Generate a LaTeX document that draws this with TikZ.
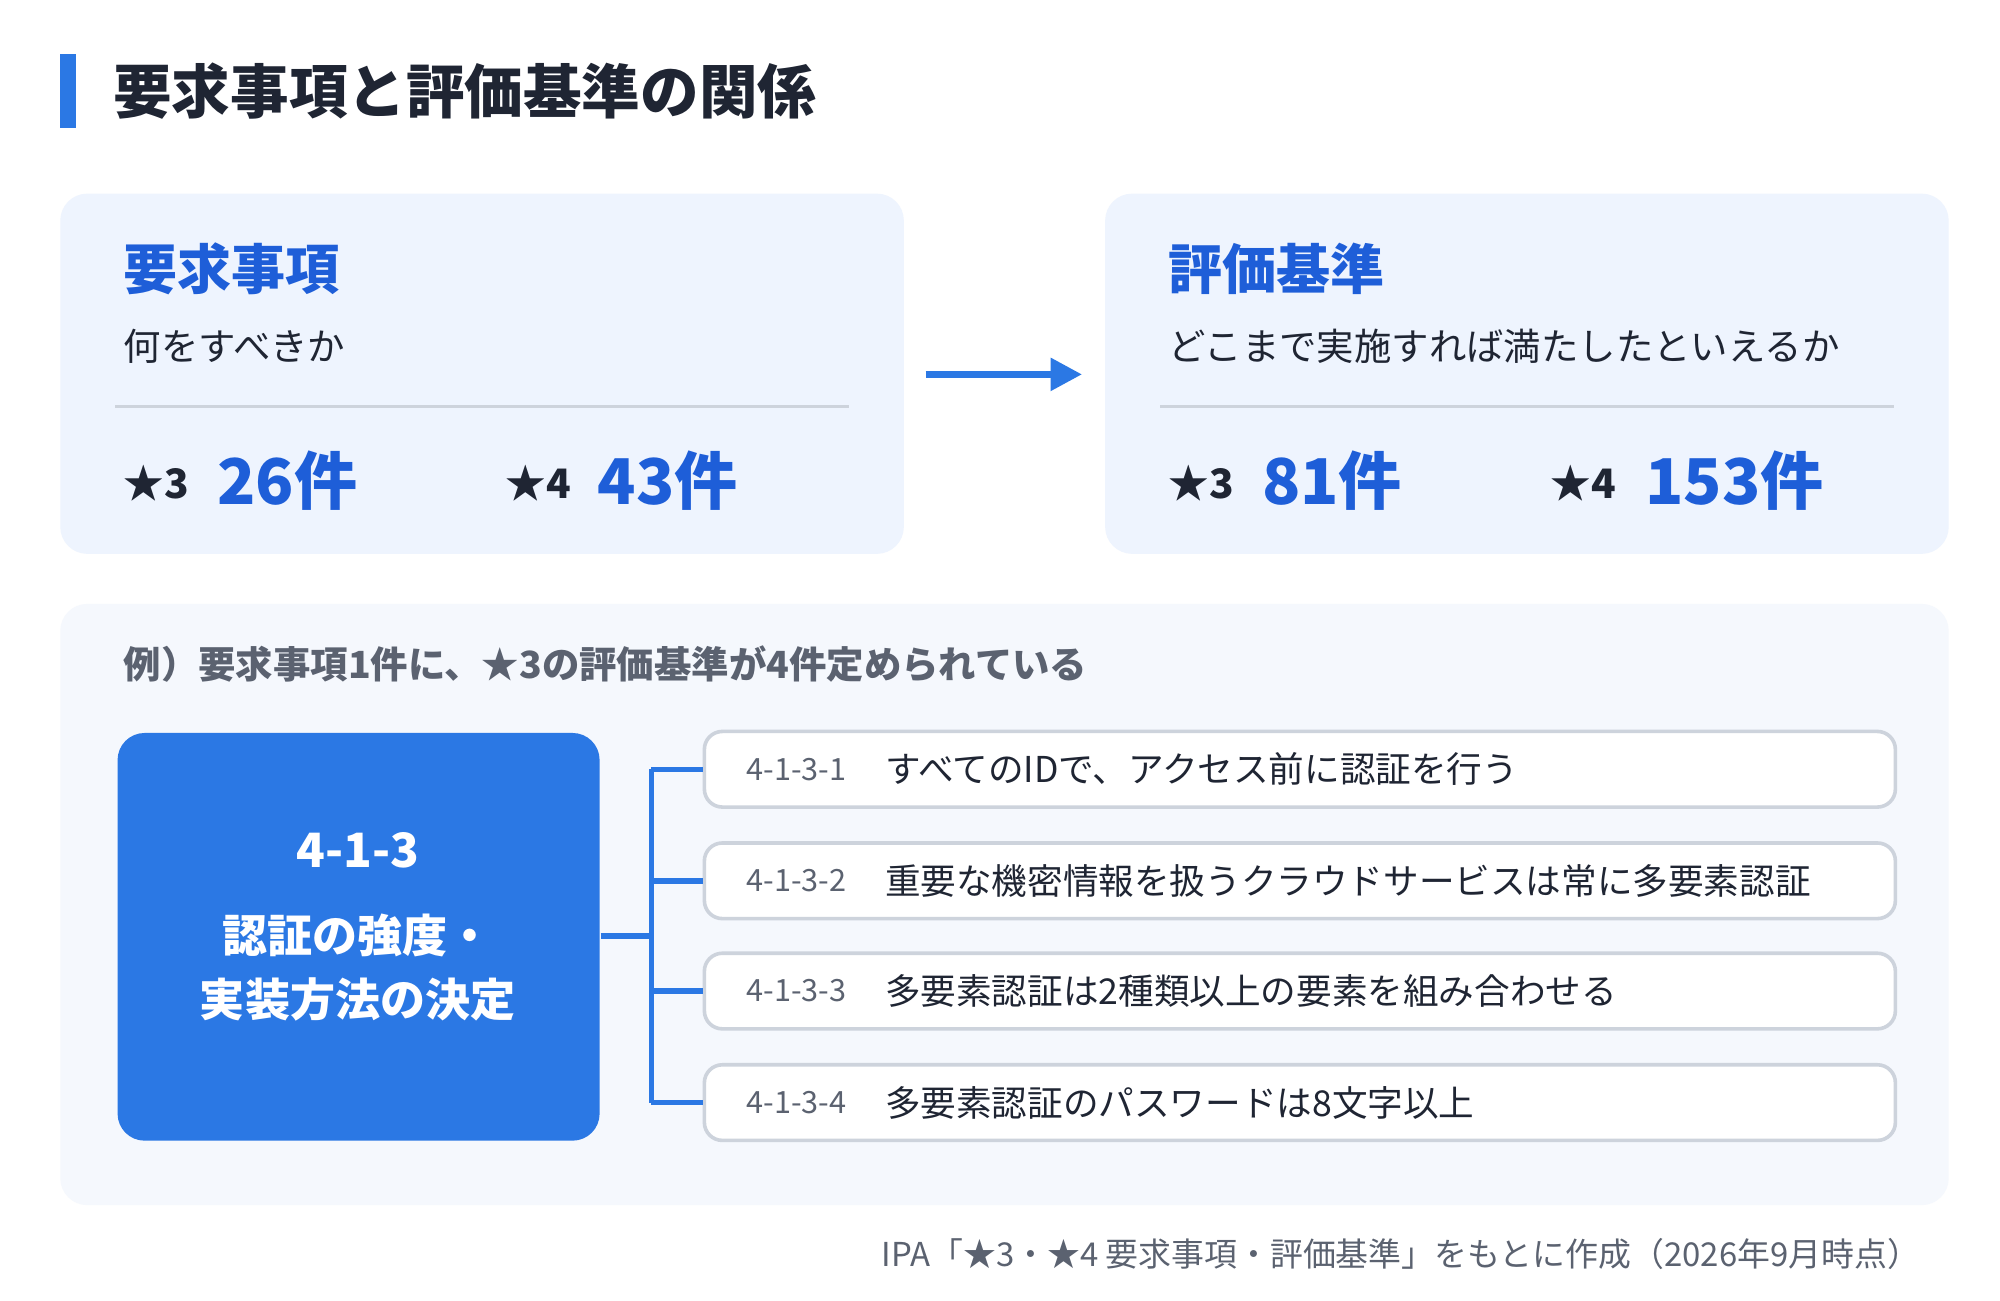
\documentclass[tikz,border=0pt]{standalone}
\usepackage{fontspec}
\setmainfont{Noto Sans CJK JP}
\usetikzlibrary{positioning, arrows.meta}
\definecolor{accent}{HTML}{2B78E4}
\definecolor{headblue}{HTML}{1E5ED8}
\definecolor{panelA}{HTML}{EEF4FE}
\definecolor{panelB}{HTML}{F5F8FD}
\definecolor{ink}{HTML}{1F2533}
\definecolor{mute}{HTML}{5B6270}
\definecolor{rule}{HTML}{CDD3DC}

\begin{document}
\begin{tikzpicture}[x=0.1mm, y=-0.1mm]
        % Define styles
        \tikzset{
            panel/.style={fill=panelA, rounded corners=6pt, draw=none},
            head/.style={anchor=west, font=\fontsize{12}{14}\selectfont\bfseries, text=headblue},
            sub/.style={anchor=west, font=\fontsize{8.3}{10}\selectfont, text=ink},
            star/.style={anchor=west, font=\fontsize{9}{11}\selectfont\bfseries, text=ink},
            count/.style={anchor=west, font=\fontsize{14}{16}\selectfont\bfseries, text=headblue},
            row/.style={draw=rule, line width=0.8pt, fill=white, rounded corners=4pt, minimum width=92.9mm, minimum height=5.9mm, anchor=west},
            code/.style={anchor=west, font=\fontsize{6.8}{8}\selectfont, text=mute},
            item/.style={anchor=west, font=\fontsize{7.9}{9}\selectfont, text=ink},
            branch/.style={accent, line width=1.2pt}
        }
        \useasboundingbox (0,0) rectangle (1560,1014);
        \fill[white] (0,0) rectangle (1560,1014);
        % Title
        \fill[accent] (47,42) rectangle (59,100);
        \node[anchor=west, font=\fontsize{13}{15}\selectfont\bfseries, text=ink] (title) at (76,71) {要求事項と評価基準の関係};
        % Left panel: requirements
        \fill[panel] (47,151) rectangle (705,432);
        \node[head] (reqhead) at (84,210) {要求事項};
        \node[sub] (reqsub) at (84,270) {何をすべきか};
        \draw[rule, line width=0.8pt] (90,317) -- (662,317);
        \node[star] (reqs3) at (84,377) {★3};
        \node[count] (reqn3) at (157,375) {26件};
        \node[star] (reqs4) at (382,377) {★4};
        \node[count] (reqn4) at (454,375) {43件};
        % Right panel: criteria
        \fill[panel] (862,151) rectangle (1520,432);
        \node[head] (crihead) at (899,210) {評価基準};
        \node[sub] (crisub) at (899,270) {どこまで実施すれば満たしたといえるか};
        \draw[rule, line width=0.8pt] (905,317) -- (1477,317);
        \node[star] (cris3) at (899,377) {★3};
        \node[count] (crin3) at (972,375) {81件};
        \node[star] (cris4) at (1197,377) {★4};
        \node[count] (crin4) at (1271,375) {153件};
        % Arrow between panels
        \coordinate (arrA) at (722,292);
        \coordinate (arrB) at (844,292);
        \draw[accent, line width=1.6pt, -{Triangle[length=7pt, width=7pt]}] (arrA) -- (arrB);
        % Example panel
        \fill[panelB, rounded corners=6pt] (47,471) rectangle (1520,940);
        \node[anchor=west, font=\fontsize{8.3}{10}\selectfont\bfseries, text=mute] (example) at (84,518) {例）要求事項1件に、★3の評価基準が4件定められている};
        \node[fill=accent, rounded corners=6pt, minimum width=37.6mm, minimum height=31.8mm, anchor=north west] (req) at (91,571) {};
        \node[text=white, font=\fontsize{10.5}{12}\selectfont\bfseries] (reqid) at (279,663) {4-1-3};
        \node[text=white, font=\fontsize{10}{14.2}\selectfont\bfseries, align=center] (reqname) at (279,755) {認証の強度・\\実装方法の決定};
        % Criteria rows
        \coordinate (fork) at (508,730);
        \foreach \i/\y/\txt in {1/600/{すべてのIDで、アクセス前に認証を行う},
                                2/687/{重要な機密情報を扱うクラウドサービスは常に多要素認証},
                                3/773/{多要素認証は2種類以上の要素を組み合わせる},
                                4/860/{多要素認証のパスワードは8文字以上}} {
            \node[row] (row\i) at (548,\y) {};
            \node[code] at (570,\y) {4-1-3-\i};
            \node[item] at (678,\y) {\txt};
        }
        \draw[branch] (req.east |- fork) -- (fork);
        \draw[branch] (fork |- row1.west) -- (fork |- row4.west);
        \foreach \i in {1,...,4}
            \draw[branch] (fork |- row\i.west) -- (row\i.west);
        % Source note
        \node[anchor=east, font=\fontsize{7.3}{9}\selectfont, text=mute] (source) at (1510,978) {IPA「★3・★4 要求事項・評価基準」をもとに作成（2026年9月時点）};
\end{tikzpicture}
\end{document}
